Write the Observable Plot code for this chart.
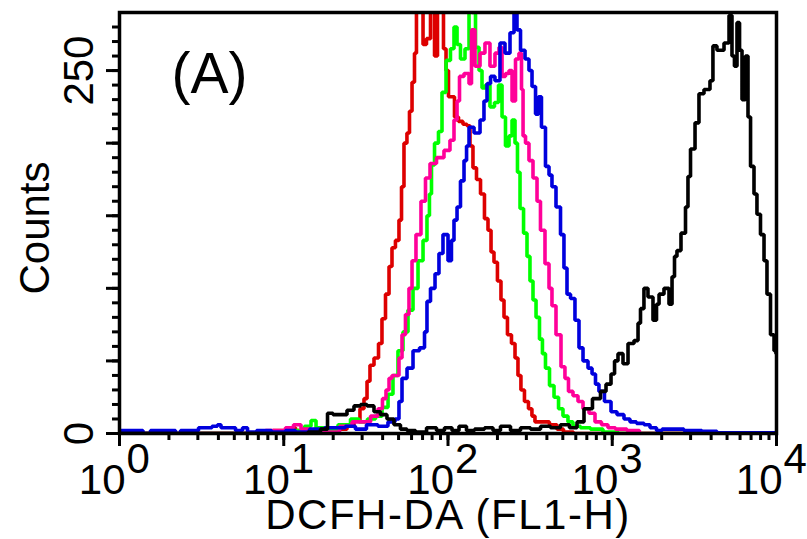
<!DOCTYPE html>
<html><head><meta charset="utf-8">
<script src="https://cdn.jsdelivr.net/npm/d3@7"></script>
<script src="https://cdn.jsdelivr.net/npm/@observablehq/plot@0.6"></script>
<style>body{margin:0;background:#fff} svg{display:block}</style>
</head><body><div id="chart"></div>
<script>
// x values are log10 of FL1-H intensity (decades); y values are counts
const redLog = [0,0.858,1.011,1.041,1.102,1.224,1.364,1.406,1.449,1.479,1.498,1.516,1.534,1.565,1.589,1.607,1.632,1.650,1.668,1.692,1.711,1.723,1.741,1.759,1.772,1.790,1.802,1.814,1.839,1.857,1.881,1.906,1.930,1.942,1.966,1.979,1.997,2.009,2.027,2.052,2.076,2.106,2.125,2.143,2.161,2.186,2.210,2.234,2.253,2.271,2.289,2.313,2.332,2.350,2.374,2.399,2.417,2.435,2.453,2.478,2.502,2.520,2.539,2.593,2.642,2.685,2.721,2.807,3.537,4.0];
const redCounts = [0,0,2,4,2,2,3,5,9,17,24,36,47,52,62,79,96,115,128,133,147,170,200,207,222,242,262,300,300,268,272,300,260,300,300,265,250,232,232,218,215,213,212,198,183,175,165,148,140,125,118,105,92,80,68,62,52,40,30,22,17,12,8,8,6,3,1,0,0,0];

const greenLog = [0,0.980,1.102,1.151,1.181,1.212,1.285,1.376,1.437,1.479,1.540,1.577,1.620,1.650,1.680,1.711,1.741,1.772,1.802,1.833,1.863,1.881,1.893,1.906,1.930,1.954,1.973,2.003,2.027,2.046,2.064,2.088,2.119,2.137,2.155,2.180,2.198,2.216,2.240,2.271,2.295,2.320,2.338,2.362,2.381,2.399,2.417,2.429,2.448,2.472,2.490,2.508,2.527,2.545,2.569,2.581,2.606,2.630,2.661,2.685,2.715,2.746,2.776,2.837,2.898,2.989,3.081,4.0];
const greenCounts = [0,0,2,5,9,4,2,6,10,8,10,12,18,27,40,57,70,85,100,119,133,150,165,185,200,208,235,257,265,280,268,258,265,300,290,266,250,238,240,225,228,240,218,198,205,216,200,180,155,138,122,105,92,80,65,55,45,33,25,17,12,8,5,4,3,1,0,0];

const pinkLog = [0,0.798,0.980,1.041,1.078,1.132,1.193,1.285,1.394,1.437,1.498,1.559,1.589,1.613,1.632,1.650,1.668,1.692,1.711,1.729,1.753,1.772,1.790,1.820,1.851,1.875,1.906,1.954,1.997,2.027,2.046,2.064,2.076,2.119,2.137,2.149,2.180,2.210,2.240,2.271,2.301,2.320,2.338,2.362,2.381,2.399,2.423,2.441,2.454,2.460,2.484,2.502,2.533,2.551,2.575,2.606,2.624,2.642,2.673,2.703,2.721,2.746,2.776,2.807,2.837,2.880,2.910,2.959,2.989,3.050,3.129,3.202,4.0];
const pinkCounts = [0,0,2,4,6,3,2,1,5,8,8,12,17,24,30,38,40,40,52,68,82,100,119,137,160,176,186,190,195,202,216,229,246,248,241,278,253,262,269,253,262,266,246,248,250,229,258,262,237,205,200,188,176,160,140,117,100,88,68,46,38,29,26,22,17,14,8,6,4,3,2,0,0];

const blueLog = [0,0.128,0.158,0.219,0.323,0.359,0.384,0.469,0.493,0.542,0.584,0.609,0.627,0.676,0.737,0.761,0.798,0.871,0.980,1.041,1.102,1.212,1.285,1.345,1.406,1.467,1.540,1.607,1.662,1.692,1.711,1.729,1.772,1.802,1.851,1.863,1.881,1.906,1.936,1.954,1.985,2.015,2.027,2.046,2.064,2.088,2.107,2.119,2.137,2.180,2.210,2.228,2.247,2.271,2.301,2.332,2.362,2.393,2.411,2.429,2.454,2.484,2.502,2.521,2.545,2.557,2.581,2.606,2.624,2.642,2.673,2.697,2.715,2.734,2.758,2.788,2.807,2.837,2.868,2.886,2.910,2.928,2.977,3.008,3.050,3.093,3.123,3.172,3.215,3.245,3.294,3.312,3.397,3.476,3.616,3.659,4.0];
const blueCounts = [2,2,0,2,2,0,2,2,4,4,5,6,4,4,2,4,1,2,1,2,1,3,4,4,5,3,6,5,8,10,22,38,45,57,59,70,91,100,110,124,137,119,133,147,156,174,188,198,211,207,216,229,241,246,243,269,262,276,300,278,264,258,250,239,220,232,211,184,178,170,156,137,114,96,93,78,59,50,45,41,34,29,22,15,13,10,8,7,6,4,2,3,3,2,1.5,0.5,0.5];

const blackLog = [0,1.102,1.193,1.254,1.279,1.321,1.364,1.406,1.449,1.486,1.528,1.571,1.607,1.650,1.692,1.729,1.772,1.833,1.906,1.954,2.003,2.046,2.088,2.137,2.186,2.259,2.289,2.350,2.411,2.472,2.533,2.594,2.654,2.715,2.764,2.807,2.849,2.910,2.947,2.977,3.008,3.020,3.050,3.081,3.111,3.154,3.160,3.184,3.202,3.233,3.263,3.276,3.294,3.336,3.355,3.373,3.385,3.403,3.434,3.458,3.464,3.489,3.519,3.537,3.580,3.610,3.616,3.659,3.702,3.720,3.738,3.750,3.769,3.781,3.799,3.823,3.830,3.854,3.872,3.890,3.915,3.933,3.951,3.976,3.994,4.0];
const blackCounts = [0,0,1,3,14,13,13,16,19,20,19,15,13,10,6,3,2,1,4,2,4,2,5,2,3,4,2,5,2,4,3,5,4,6,4,8,17,24,29,34,41,50,55,48,62,64,76,86,100,94,78,89,96,100,89,108,122,126,138,156,177,196,214,234,237,243,267,264,269,288,260,253,283,264,230,260,218,184,165,151,137,119,96,68,57,55];

const seriesNames = ["red", "green", "pink", "blue", "black"];
const seriesColors = ["#dd0000", "#00ff00", "#ff0099", "#0000dd", "#000000"];
const seriesLogs = [redLog, greenLog, pinkLog, blueLog, blackLog];
const seriesCounts = [redCounts, greenCounts, pinkCounts, blueCounts, blackCounts];

const xTickValues = [1, 10, 100, 1000, 10000];
const xTickBase = ["10", "10", "10", "10", "10"];
const xTickExp = ["0", "1", "2", "3", "4"];
const yTickLabelValues = [0, 250];
const yTickLabels = ["0", "250"];
const xLabel = "DCFH-DA (FL1-H)";
const yLabel = "Counts";
const panelLabel = "(A)";

const FONT = "'Liberation Sans', Arial, sans-serif";

const rows = seriesNames.map((name, k) =>
  seriesLogs[k].map((e, i) => ({series: name, x: Math.pow(10, e), y: seriesCounts[k][i]})));

const minorX = d3.scaleLog().domain([1, 10000]).ticks();
const minorY = d3.range(0, 290, 10);
const majorY = d3.range(0, 300, 50);

const chart = Plot.plot({
  width: 807,
  height: 539,
  marginLeft: 119,
  marginRight: 31,
  marginTop: 12,
  marginBottom: 106,
  x: {type: "log", domain: [1, 10000]},
  y: {domain: [0, 290]},
  style: {background: "#fff", fontFamily: FONT, color: "#000"},
  marks: [
    ...rows.map((r, k) => Plot.line(r, {x: "x", y: "y", stroke: seriesColors[k], strokeWidth: 3.6, curve: "step", clip: true, strokeLinejoin: "miter"})),
    Plot.frame({stroke: "#000", strokeWidth: 3.5}),
    Plot.axisX(minorX, {tickSize: 7, strokeWidth: 3, tickFormat: () => "", label: null}),
    Plot.axisX(xTickValues, {tickSize: 13, strokeWidth: 3, tickFormat: () => "", label: null}),
    Plot.axisY(minorY, {tickSize: 7, strokeWidth: 3, tickFormat: () => "", label: null}),
    Plot.axisY(majorY, {tickSize: 13, strokeWidth: 3, tickFormat: () => "", label: null}),
    Plot.text(xTickValues, {x: d => d, frameAnchor: "bottom", text: (d, i) => xTickBase[i], textAnchor: "end", lineAnchor: "bottom", dx: 6, dy: 60, fontSize: 42, fill: "#000"}),
    Plot.text(xTickValues, {x: d => d, frameAnchor: "bottom", text: (d, i) => xTickExp[i], textAnchor: "start", lineAnchor: "bottom", dx: 7, dy: 39, fontSize: 42, fill: "#000"}),
    Plot.text(yTickLabelValues, {y: d => d, frameAnchor: "left", text: (d, i) => yTickLabels[i], rotate: -90, textAnchor: "middle", lineAnchor: "middle", dx: -40, fontSize: 42, fill: "#000"}),
    Plot.text([yLabel], {frameAnchor: "left", text: d => d, rotate: -90, textAnchor: "middle", lineAnchor: "middle", dx: -84, dy: 5, fontSize: 42, fill: "#000"}),
    Plot.text([xLabel], {frameAnchor: "bottom", text: d => d, textAnchor: "middle", lineAnchor: "bottom", dy: 95, fontSize: 42, fill: "#000"}),
    Plot.text([panelLabel], {frameAnchor: "top-left", text: d => d, textAnchor: "start", lineAnchor: "top", dx: 52, dy: 40, fontSize: 57, fill: "#000"})
  ]
});

d3.select(chart).selectAll("text").filter(function() { return this.textContent === xLabel; })
  .attr("letter-spacing", "1.5px");

document.getElementById("chart").appendChild(chart);
</script>
</body></html>
